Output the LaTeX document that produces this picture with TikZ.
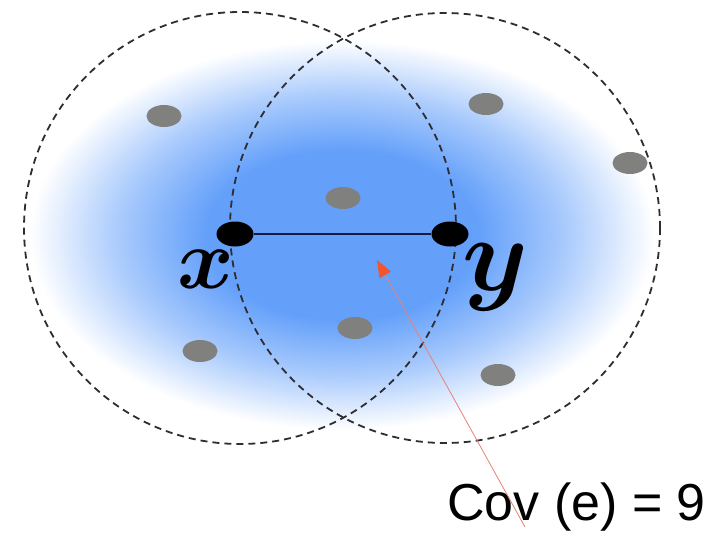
\documentclass[tikz,border=0pt]{standalone}
\usepackage{fontspec}
\newfontfamily\arialfont{Liberation Sans}
\usetikzlibrary{shapes.geometric,arrows.meta}
\definecolor{blobblue}{RGB}{100,160,250}
\definecolor{dotgray}{RGB}{128,128,126}
\definecolor{circgray}{RGB}{45,45,50}
\definecolor{edgenavy}{RGB}{20,25,70}
\definecolor{tipred}{RGB}{240,85,45}
\definecolor{linered}{RGB}{230,130,120}
\pgfdeclareradialshading{blob}{\pgfpoint{0bp}{0bp}}{color(0bp)=(blobblue); color(8.5bp)=(blobblue); color(14bp)=(blobblue!55!white); color(19.5bp)=(white); color(50bp)=(white)}
\newcommand\biglabel[2]{\scalebox{#1}{\boldmath$#2$}}
\tikzset{
  graydot/.style={ellipse, fill=dotgray, draw=none, minimum width=35pt, minimum height=22pt, inner sep=0pt},
  vertexdot/.style={ellipse, fill=black, draw=none, minimum width=37pt, minimum height=25pt, inner sep=0pt},
  dashcirc/.style={draw=circgray, line width=1.8pt, dash pattern=on 7pt off 5pt},
  edgeline/.style={draw=edgenavy, line width=2pt},
  pointer/.style={draw=linered, line width=0.8pt, -{Triangle[length=17pt,width=13pt,color=tipred,fill=tipred]}},
  vlabel/.style={inner sep=0pt},
}
\begin{document}
\begin{tikzpicture}[x=1pt,y=-1pt]
\useasboundingbox (0,0) rectangle (722,536);
\fill[white] (0,0) rectangle (722,536);
% background glow
\begin{scope}
\clip (0,0) rectangle (722,536);
\shade[shading=blob] (342,235) ellipse [x radius=400, y radius=250];
\end{scope}
% points
\node[graydot] (g1) at (164,116) {};
\node[graydot] (g2) at (343,198) {};
\node[graydot] (g3) at (486,104) {};
\node[graydot] (g4) at (630,163) {};
\node[graydot] (g5) at (200,351) {};
\node[graydot] (g6) at (355,328) {};
\node[graydot] (g7) at (498,375) {};
% circles
\draw[dashcirc] (240,228) circle [radius=216];
\draw[dashcirc] (445,228) circle [radius=215];
% edge
\node[vertexdot] (x) at (235,234) {};
\node[vertexdot] (y) at (450,234) {};
\draw[edgeline] (x) -- (y);
% labels
\node[vlabel, anchor=base] (xl) at (206,288) {\biglabel{8.6}{x}};
\node[vlabel, anchor=base] (yl) at (495,290) {\biglabel{10.5}{y}};
% annotation
\node[anchor=base west, font=\arialfont\fontsize{52}{58}\selectfont, inner sep=0pt] (cov) at (447,520) {Cov (e) = 9};
\coordinate (s) at (525,527);
\coordinate (t) at (377,260);
\draw[pointer] (s) -- (t);
\end{tikzpicture}
\end{document}
